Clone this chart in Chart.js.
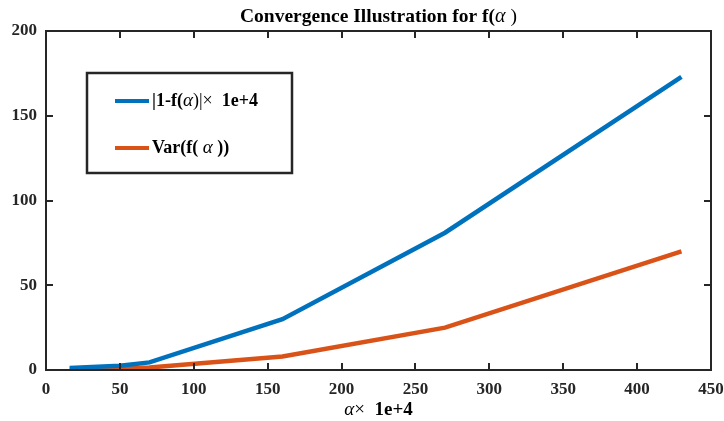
<!DOCTYPE html>
<html>
<head>
<meta charset="utf-8">
<script src="https://cdn.jsdelivr.net/npm/chart.js@4"></script>
<style>
  html, body { margin: 0; padding: 0; background: #fff; }
  #wrap { width: 724px; height: 421px; }
</style>
</head>
<body>
<div id="wrap"><canvas id="myChart" width="724" height="421"></canvas></div>
<script>
var alphaVals = [16, 50, 70, 160, 270, 430];
var errVals = [1.2, 2.5, 4.5, 30, 81, 173];
var varVals = [0.3, 0.8, 1.5, 8, 25, 70];
var xTicks = [0, 50, 100, 150, 200, 250, 300, 350, 400, 450];
var yTicks = [0, 50, 100, 150, 200];

var serif = '"Liberation Serif", "Times New Roman", serif';

function runsWidth(ctx, runs) {
    var w = 0;
    runs.forEach(function (r) { ctx.font = r[1]; w += ctx.measureText(r[0]).width; });
    return w;
}
function drawRuns(ctx, runs, x, y) {
    ctx.textBaseline = 'middle';
    ctx.textAlign = 'left';
    runs.forEach(function (r) {
        ctx.font = r[1];
        ctx.fillText(r[0], x, y);
        x += ctx.measureText(r[0]).width;
    });
}

var titleRuns = [['Convergence Illustration for f(', 'bold 19.5px ' + serif], ['\u03B1', 'italic 20px ' + serif], [' )', '19.5px ' + serif]];
var xlabRuns = [['\u03B1', 'italic 19px ' + serif], ['\u00D7  ', '19px ' + serif], ['1e+4', 'bold 19px ' + serif]];
var legendRuns = [
    [['|1-f(', 'bold 18px ' + serif], ['\u03B1', 'italic 19px ' + serif], [')|\u00D7  ', '18px ' + serif], ['1e+4', 'bold 18px ' + serif]],
    [['Var(f( ', 'bold 18px ' + serif], ['\u03B1', 'italic 19px ' + serif], [' ))', 'bold 18px ' + serif]]
];

var frame = {
    id: 'frame',
    afterDraw: function (chart) {
        var ctx = chart.ctx, a = chart.chartArea;
        var sx = chart.scales.x, sy = chart.scales.y;
        ctx.save();
        ctx.strokeStyle = '#262626';
        ctx.lineWidth = 2;
        ctx.strokeRect(a.left, a.top, a.right - a.left, a.bottom - a.top);
        ctx.beginPath();
        xTicks.forEach(function (v) {
            var px = Math.round(sx.getPixelForValue(v));
            ctx.moveTo(px, a.bottom); ctx.lineTo(px, a.bottom - 7);
            ctx.moveTo(px, a.top); ctx.lineTo(px, a.top + 7);
        });
        yTicks.forEach(function (v) {
            var py = Math.round(sy.getPixelForValue(v));
            ctx.moveTo(a.left, py); ctx.lineTo(a.left + 7, py);
            ctx.moveTo(a.right, py); ctx.lineTo(a.right - 7, py);
        });
        ctx.stroke();

        // title and x label
        ctx.fillStyle = '#000';
        var tw = runsWidth(ctx, titleRuns);
        drawRuns(ctx, titleRuns, (a.left + a.right) / 2 - tw / 2, 17);
        var xw = runsWidth(ctx, xlabRuns);
        drawRuns(ctx, xlabRuns, (a.left + a.right) / 2 - xw / 2, 410);

        // legend box
        var lx = 87, ly = 73, lw = 205, lh = 100;
        ctx.fillStyle = '#fff';
        ctx.fillRect(lx, ly, lw, lh);
        ctx.strokeStyle = '#262626';
        ctx.lineWidth = 2.5;
        ctx.strokeRect(lx, ly, lw, lh);
        chart.data.datasets.forEach(function (ds, i) {
            var yy = ly + 28 + i * 47;
            ctx.strokeStyle = ds.borderColor;
            ctx.lineWidth = 4;
            ctx.beginPath();
            ctx.moveTo(lx + 28, yy); ctx.lineTo(lx + 62, yy);
            ctx.stroke();
            ctx.fillStyle = '#000';
            drawRuns(ctx, legendRuns[i], lx + 65, yy);
        });
        ctx.restore();
    }
};

var ctx = document.getElementById('myChart').getContext('2d');
var myChart = new Chart(ctx, {
    type: 'line',
    data: {
        datasets: [{
            label: '|1-f(\u03B1)|\u00D7 1e+4',
            data: alphaVals.map(function (x, i) { return { x: x, y: errVals[i] }; }),
            borderColor: '#0072BD',
            borderWidth: 4.5,
            pointRadius: 0,
            fill: false
        }, {
            label: 'Var(f(\u03B1))',
            data: alphaVals.map(function (x, i) { return { x: x, y: varVals[i] }; }),
            borderColor: '#D95319',
            borderWidth: 4.5,
            pointRadius: 0,
            fill: false
        }]
    },
    options: {
        responsive: false,
        animation: false,
        maintainAspectRatio: false,
        layout: { padding: { top: 31, right: 13, left: 0, bottom: 0 } },
        plugins: { legend: { display: false }, title: { display: false }, tooltip: { enabled: false } },
        scales: {
            x: {
                type: 'linear', min: 0, max: 450,
                afterBuildTicks: function (s) { s.ticks = xTicks.map(function (v) { return { value: v }; }); },
                afterFit: function (s) { s.height = 51; s.paddingRight = 0; s.paddingLeft = 0; },
                grid: { display: false, drawTicks: false },
                border: { display: false },
                ticks: { color: '#262626', font: { family: serif, size: 17, weight: 'bold' }, padding: 9, maxRotation: 0 }
            },
            y: {
                min: 0, max: 200,
                afterBuildTicks: function (s) { s.ticks = yTicks.map(function (v) { return { value: v }; }); },
                afterFit: function (s) { s.width = 46; s.paddingTop = 0; s.paddingBottom = 0; },
                grid: { display: false, drawTicks: false },
                border: { display: false },
                ticks: { color: '#262626', font: { family: serif, size: 17, weight: 'bold' }, padding: 9 }
            }
        }
    },
    plugins: [frame]
});
</script>
</body>
</html>
